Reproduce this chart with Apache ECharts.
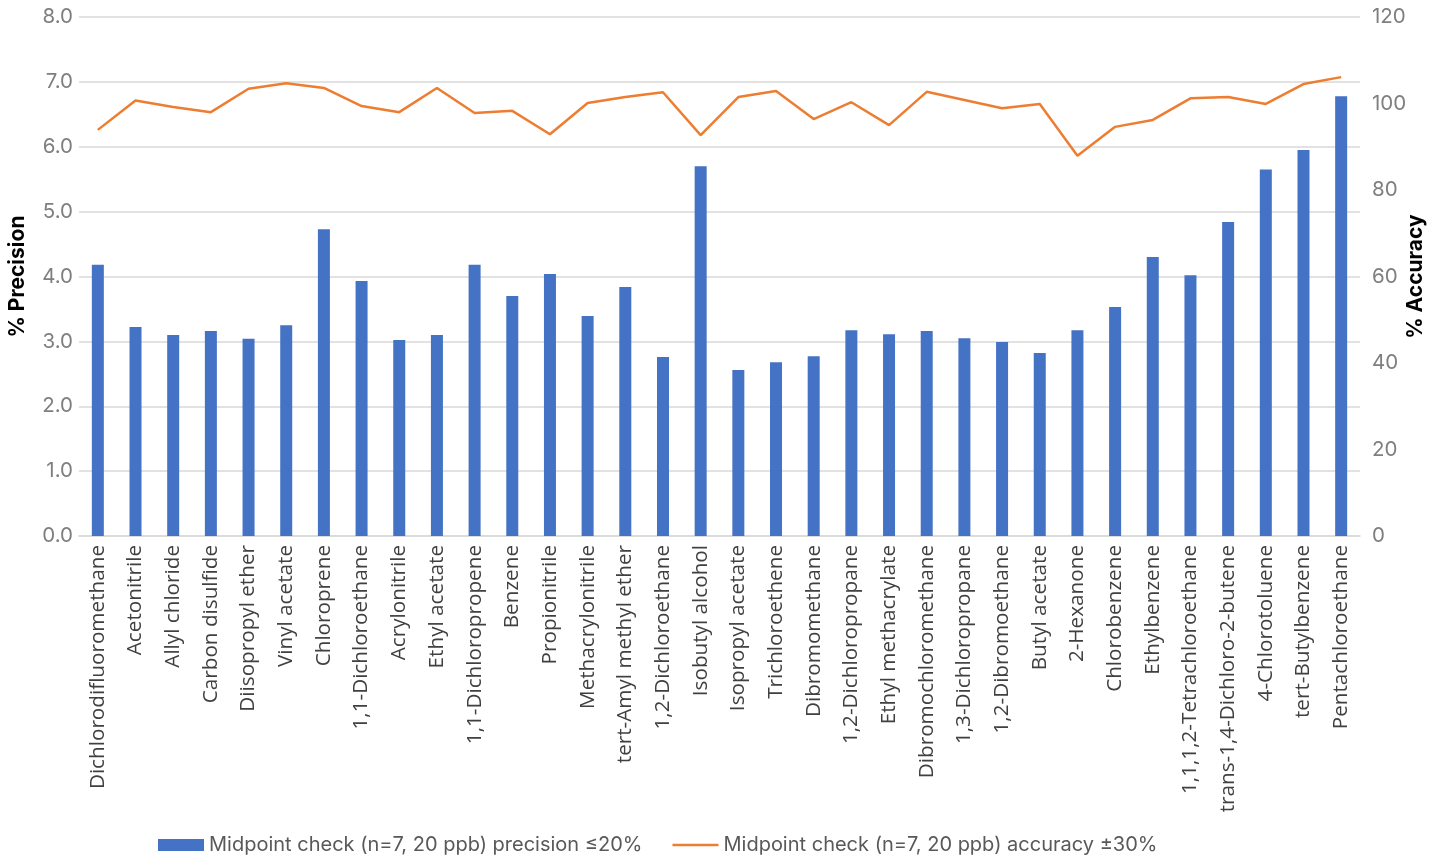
<!DOCTYPE html>
<html>
<head>
<meta charset="utf-8">
<script src="https://cdn.jsdelivr.net/npm/echarts@6/dist/echarts.min.js"></script>
<style>
  html, body { margin: 0; padding: 0; background: #fff; }
  #main { width: 1440px; height: 863px; }
</style>
</head>
<body>
<div id="main"></div>
<script>
// compounds on the x axis
var compounds = [
  'Dichlorodifluoromethane', 'Acetonitrile', 'Allyl chloride', 'Carbon disulfide',
  'Diisopropyl ether', 'Vinyl acetate', 'Chloroprene', '1,1-Dichloroethane',
  'Acrylonitrile', 'Ethyl acetate', '1,1-Dichloropropene', 'Benzene',
  'Propionitrile', 'Methacrylonitrile', 'tert-Amyl methyl ether', '1,2-Dichloroethane',
  'Isobutyl alcohol', 'Isopropyl acetate', 'Trichloroethene', 'Dibromomethane',
  '1,2-Dichloropropane', 'Ethyl methacrylate', 'Dibromochloromethane', '1,3-Dichloropropane',
  '1,2-Dibromoethane', 'Butyl acetate', '2-Hexanone', 'Chlorobenzene',
  'Ethylbenzene', '1,1,1,2-Tetrachloroethane', 'trans-1,4-Dichloro-2-butene', '4-Chlorotoluene',
  'tert-Butylbenzene', 'Pentachloroethane'
];

// % precision (bars, left axis)
var precision = [
  4.18, 3.22, 3.10, 3.16, 3.04, 3.25, 4.73, 3.93,
  3.02, 3.10, 4.18, 3.70, 4.04, 3.39, 3.84, 2.76,
  5.70, 2.56, 2.68, 2.77, 3.17, 3.11, 3.16, 3.05,
  2.99, 2.82, 3.17, 3.53, 4.30, 4.02, 4.84, 5.65,
  5.95, 6.78
];

// % accuracy (line, right axis)
var accuracy = [
  93.9, 100.7, 99.2, 98.0, 103.4, 104.7, 103.6, 99.4,
  98.0, 103.6, 97.8, 98.3, 92.9, 100.1, 101.5, 102.6,
  92.7, 101.5, 102.9, 96.4, 100.3, 95.0, 102.7, 100.8,
  98.9, 99.9, 87.9, 94.6, 96.2, 101.2, 101.5, 99.9,
  104.5, 106.1
];

var seriesNames = [
  'Midpoint check (n=7, 20 ppb) precision \u226420%',
  'Midpoint check (n=7, 20 ppb) accuracy \u00b130%'
];

var chart = echarts.init(document.getElementById('main'), null, { renderer: 'canvas' });

var numFont = 'Inter, "Liberation Sans", Arial, sans-serif';
var catFont = '"Open Sans", "Liberation Sans", sans-serif';

var option = {
  animation: false,
  textStyle: { fontFamily: numFont },
  grid: { left: 79, right: 80, top: 17, bottom: 327, containLabel: false, outerBoundsMode: 'none' },
  legend: {
    bottom: 3,
    left: 153,
    itemGap: 30,
    itemWidth: 46,
    itemHeight: 12,
    textStyle: { fontSize: 20, color: '#595959', fontFamily: numFont },
    data: [
      { name: seriesNames[0], icon: 'rect' },
      { name: seriesNames[1], icon: 'path://M0,5 L46,5 L46,7.5 L0,7.5 Z' }
    ]
  },
  xAxis: {
    type: 'category',
    data: compounds,
    axisLine: { show: true, lineStyle: { color: '#d9d9d9', width: 1.5 } },
    axisTick: { show: false },
    axisLabel: {
      interval: 0,
      rotate: 90,
      margin: 9,
      fontSize: 20.7,
      color: '#404040',
      fontFamily: catFont
    }
  },
  yAxis: [
    {
      type: 'value',
      min: 0,
      max: 8,
      interval: 1,
      name: '% Precision',
      nameLocation: 'middle',
      nameRotate: 90,
      nameGap: 51,
      nameMoveOverlap: false,
      nameTextStyle: { fontSize: 21, fontWeight: 'bold', color: '#000', fontFamily: numFont },
      axisLine: { show: false },
      axisTick: { show: false },
      axisLabel: {
        fontSize: 20.5,
        color: '#7f7f7f',
        margin: 6,
        fontFamily: numFont,
        formatter: function (v) { return v.toFixed(1); }
      },
      splitLine: { lineStyle: { color: '#d9d9d9', width: 1.5 } }
    },
    {
      type: 'value',
      min: 0,
      max: 120,
      interval: 20,
      position: 'right',
      name: '% Accuracy',
      nameLocation: 'middle',
      nameRotate: 90,
      nameGap: 45,
      nameMoveOverlap: false,
      nameTextStyle: { fontSize: 21, fontWeight: 'bold', color: '#000', fontFamily: numFont },
      axisLine: { show: false },
      axisTick: { show: false },
      axisLabel: { fontSize: 20.5, color: '#7f7f7f', margin: 12, fontFamily: numFont },
      splitLine: { show: false }
    }
  ],
  series: [
    {
      name: seriesNames[0],
      type: 'bar',
      yAxisIndex: 0,
      data: precision,
      barWidth: 12,
      itemStyle: { color: '#4472c4' }
    },
    {
      name: seriesNames[1],
      type: 'line',
      yAxisIndex: 1,
      data: accuracy,
      symbol: 'none',
      lineStyle: { color: '#ed7d31', width: 2.5 },
      itemStyle: { color: '#ed7d31' }
    }
  ]
};

chart.setOption(option);
</script>
</body>
</html>
